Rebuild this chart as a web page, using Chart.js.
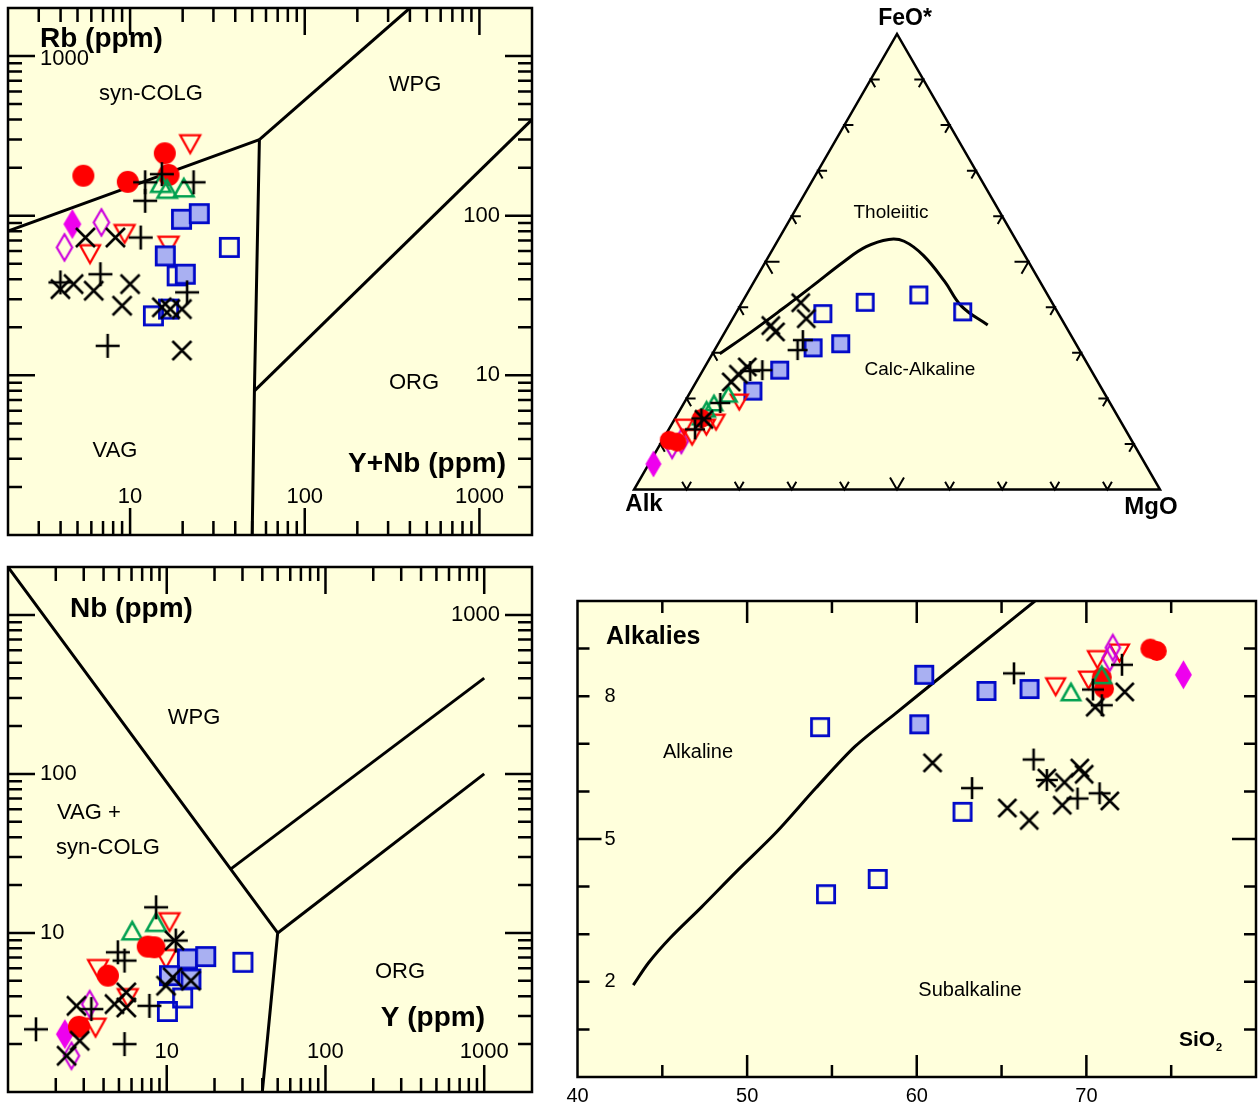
<!DOCTYPE html>
<html>
<head>
<meta charset="utf-8">
<script src="https://cdn.jsdelivr.net/npm/chart.js@4.4.1/dist/chart.umd.min.js"></script>
<style>
  html, body { margin: 0; padding: 0; background: #fff; }
  body { width: 1258px; height: 1111px; position: relative; overflow: hidden; }
  canvas { position: absolute; }
</style>
</head>
<body>
<canvas id="rbChart"></canvas>
<canvas id="afmChart"></canvas>
<canvas id="nbChart"></canvas>
<canvas id="tasChart"></canvas>
<script>
// ---------- Rb vs (Y+Nb) discrimination diagram ----------
const ynbRedCircle = [5.4, 9.7, 15.8, 16.6];
const rbRedCircle  = [178, 163, 246, 180];
const ynbRedTri    = [22.1, 9.3, 5.9, 16.6];
const rbRedTri     = [281, 77, 57.5, 65];
const ynbGreenTri  = [16.3, 20.3, 15.0];
const rbGreenTri   = [147, 150, 160];
const ynbMagFilled = [4.67];
const rbMagFilled  = [88.6];
const ynbMagOpen   = [6.85, 4.21];
const rbMagOpen    = [90.8, 63.3];
const ynbBlueFilled = [19.7, 24.9, 15.9, 20.7];
const rbBlueFilled  = [95, 103, 56, 43];
const ynbBlueOpen  = [37, 13.6, 16.6, 18.6];
const rbBlueOpen   = [63.3, 23.6, 26, 42];
const ynbCross = [5.55, 8.24, 3.99, 4.75, 6.19, 10.0, 9.0, 15.2, 17.0, 19.8, 19.8];
const rbCross  = [73, 73, 34.7, 37.3, 33.9, 37.3, 27.3, 26.7, 26, 26, 14.3];
const ynbPlus  = [15.2, 12.2, 23.1, 12.2, 11.5, 6.76, 3.99, 21.2, 7.44];
const rbPlus   = [182, 162, 162, 124, 73, 43, 38.2, 33.1, 15.3];
// field boundaries
const rbVagColX = [2, 55],          rbVagColY = [80, 300];
const rbWpgColX = [55, 400],        rbWpgColY = [300, 2000];
const rbVagWpgX = [55, 51.5, 50],   rbVagWpgY = [300, 8, 1];
const rbWpgOrgX = [51.5, 2000],     rbWpgOrgY = [8, 400];
const rbXTickLabels = [10, 100, 1000];
const rbYTickLabels = [1000, 100, 10];

// ---------- Nb vs Y discrimination diagram ----------
const yRedCircle  = [2.80, 4.26, 7.59, 8.36];
const nbRedCircle = [2.57, 5.39, 8.21, 8.13];
const yRedTri     = [10.4, 3.69, 5.68, 3.56, 9.9];
const nbRedTri    = [11.7, 5.94, 3.90, 2.54, 6.87];
const yGreenTri   = [6.06, 8.57];
const nbGreenTri  = [10.35, 11.7];
const yMagFilled  = [2.28];
const nbMagFilled = [2.31];
const yMagOpen    = [3.27, 2.51];
const nbMagOpen   = [3.57, 1.69];
const yBlueFilled  = [13.5, 17.6, 10.4, 14.2];
const nbBlueFilled = [6.87, 7.1, 5.39, 5.13];
const yBlueOpen   = [30.2, 10.1, 12.6];
const nbBlueOpen  = [6.54, 3.21, 3.90];
const yCross  = [11.2, 10.9, 14.2, 9.9, 2.70, 4.69, 5.56, 5.56, 2.83, 2.34];
const nbCross = [8.96, 5.26, 5.01, 4.66, 3.48, 3.57, 4.23, 3.40, 2.10, 1.69];
const yPlus   = [8.57, 4.92, 5.42, 3.35, 7.78, 1.50, 5.42, 11.4];
const nbPlus  = [14.5, 7.56, 6.70, 3.32, 3.48, 2.48, 2.0, 8.96];
const nbWpgVagX = [1, 50, 40],   nbWpgVagY = [2000, 10, 1];
const nbOrgX    = [50, 1000],    nbOrgY    = [10, 100];
const nbWpgX    = [25, 1000],    nbWpgY    = [25, 400];
const nbXTickLabels = [10, 100, 1000];
const nbYTickLabels = [1000, 100, 10];

// ---------- AFM ternary (Alk, FeO*, MgO in %) ----------
const afmA_BlueOpen = [44.8, 35.5, 24.5, 18];
const afmF_BlueOpen = [38.6, 41.1, 42.7, 39];
const afmM_BlueOpen = [16.6, 23.4, 32.8, 43];
const afmA_BlueFilled = [50.4, 44.7, 59.2, 66.6];
const afmF_BlueFilled = [31.1, 32, 26.2, 21.6];
const afmM_BlueFilled = [18.5, 23.3, 14.6, 11.8];
const afmA_Cross = [47.8, 48.5, 56, 55.8, 65, 67.5, 69.7, 79];
const afmF_Cross = [41, 37.5, 36, 34.6, 26.9, 25.3, 23.6, 15.4];
const afmM_Cross = [11.2, 14, 8, 9.6, 8.1, 7.2, 6.7, 5.6];
const afmA_Plus = [51.5, 53.6, 62.5, 64.9, 74.1, 79.4, 81.8];
const afmF_Plus = [32.8, 30.6, 26.2, 26, 19, 15.6, 13.2];
const afmM_Plus = [15.7, 15.8, 11.3, 9.1, 6.9, 5, 5];
const afmA_GreenTri = [71.6, 75.3, 77.4, 79.3];
const afmF_GreenTri = [20.9, 19, 17.6, 15.9];
const afmM_GreenTri = [7.5, 5.7, 5, 4.8];
const afmA_RedTri = [70.4, 77, 83.2, 83.6, 79.4];
const afmF_RedTri = [19.2, 14.8, 11.5, 13.7, 13.7];
const afmM_RedTri = [10.4, 8.2, 5.3, 2.7, 6.9];
const afmA_RedCircle = [79.4, 87.9, 86.6];
const afmF_RedCircle = [15.6, 10.8, 10.4];
const afmM_RedCircle = [5, 1.3, 3];
const afmA_MagOpen = [88, 85.7];
const afmF_MagOpen = [9.5, 10.6];
const afmM_MagOpen = [2.5, 3.7];
const afmA_MagFilled = [93.5];
const afmF_MagFilled = [5.6];
const afmM_MagFilled = [0.9];
// tholeiitic / calc-alkaline divide
const afmA_Divide = [68.8, 60.4, 52.2, 43.7, 35.3, 29.2, 24.1, 21.4, 19.3, 18, 17.6, 14.7];
const afmF_Divide = [29.8, 34.6, 39.5, 44.7, 49.9, 53.3, 54.9, 54.5, 51.4, 45.4, 40.2, 36.1];
const afmM_Divide = [1.4, 5, 8.3, 11.6, 14.8, 17.5, 21, 24.1, 29.3, 36, 42.2, 49.2];
const afmTickPercents = [10, 20, 30, 40, 50, 60, 70, 80, 90];

// ---------- Total alkalies vs SiO2 ----------
const sio2BlueOpen = [54.3, 62.7, 54.65, 57.7];
const alkBlueOpen  = [7.35, 5.57, 3.84, 4.16];
const sio2BlueFilled = [60.44, 64.11, 66.65, 60.15];
const alkBlueFilled  = [8.45, 8.11, 8.15, 7.41];
const sio2Cross = [60.93, 65.34, 66.63, 67.67, 68.71, 68.58, 69.61, 69.87, 71.38, 70.52, 72.26];
const alkCross  = [6.60, 5.65, 5.39, 6.28, 6.19, 5.71, 6.49, 6.36, 5.80, 7.77, 8.09];
const sio2Plus = [65.73, 66.89, 63.26, 67.67, 69.48, 70.78, 70.39, 72.10, 70.91];
const alkPlus  = [8.48, 6.67, 6.07, 6.24, 5.85, 5.96, 8.14, 8.66, 7.81];
const sio2RedTri = [68.19, 70.13, 70.65, 71.95];
const alkRedTri  = [8.20, 8.34, 8.77, 8.91];
const sio2GreenTri = [69.09, 70.91];
const alkGreenTri  = [8.09, 8.45];
const sio2RedCircle = [71.04, 70.91, 73.77, 74.15];
const alkRedCircle  = [8.16, 8.40, 9.00, 8.95];
const sio2MagOpen = [71.56, 71.38];
const alkMagOpen  = [9.02, 8.80];
const sio2MagFilled = [75.72];
const alkMagFilled  = [8.45];
const sio2Divide = [43.29, 44.19, 45.49, 47.31, 49.38, 51.72, 54.05, 56.38, 58.72, 61.57, 64.43, 66.97];
const alkDivide  = [1.93, 2.40, 2.93, 3.57, 4.32, 5.14, 6.07, 6.95, 7.63, 8.45, 9.27, 10.0];
const sio2TickLabels = [40, 50, 60, 70];
const alkTickLabels  = [8, 5, 2];

// ---------- styling ----------
const FONT = '"Liberation Sans", Arial, Helvetica, sans-serif';
const PANEL_BG = '#FFFFDC';
const RED = '#FF0000', BLUE = '#0008C8', BLUE_FILL = '#A9B0F2', GREEN = '#00A050';
const MAG_LINE = '#CC00DD', MAG_FILL = '#EE00EE';

function sprite(w, h, paint) {
  const pad = 3;
  const c = document.createElement('canvas');
  c.width = Math.ceil(w + pad * 2);
  c.height = Math.ceil(h + pad * 2);
  const g = c.getContext('2d');
  g.translate(c.width / 2, c.height / 2);
  paint(g, w / 2, h / 2);
  return c;
}
function circleM(d, color) {
  return sprite(d, d, (g, r) => { g.beginPath(); g.arc(0, 0, r, 0, Math.PI * 2); g.fillStyle = color; g.fill(); });
}
function squareM(s, stroke, fill, lw) {
  return sprite(s, s, (g, r) => {
    g.beginPath(); g.rect(-r + lw / 2, -r + lw / 2, 2 * r - lw, 2 * r - lw);
    if (fill) { g.fillStyle = fill; g.fill(); }
    g.lineWidth = lw; g.strokeStyle = stroke; g.stroke();
  });
}
function triM(w, h, stroke, lw, down) {
  return sprite(w, h, (g, rx, ry) => {
    const ix = rx - lw * 0.9, iy = ry - lw * 0.7;
    g.beginPath();
    if (down) { g.moveTo(-ix, -iy); g.lineTo(ix, -iy); g.lineTo(0, iy); }
    else { g.moveTo(0, -iy); g.lineTo(ix, iy); g.lineTo(-ix, iy); }
    g.closePath(); g.lineWidth = lw; g.strokeStyle = stroke; g.lineJoin = 'miter'; g.stroke();
  });
}
function diamondM(w, h, stroke, fill, lw) {
  return sprite(w, h, (g, rx, ry) => {
    const ix = rx - lw * 0.6, iy = ry - lw * 0.6;
    g.beginPath(); g.moveTo(0, -iy); g.lineTo(ix, 0); g.lineTo(0, iy); g.lineTo(-ix, 0); g.closePath();
    if (fill) { g.fillStyle = fill; g.fill(); }
    g.lineWidth = lw; g.strokeStyle = stroke; g.stroke();
  });
}
function plusM(s, lw) {
  return sprite(s, s, (g, r) => {
    g.beginPath(); g.moveTo(-r, 0); g.lineTo(r, 0); g.moveTo(0, -r); g.lineTo(0, r);
    g.lineWidth = lw; g.strokeStyle = '#000'; g.stroke();
  });
}
function crossM(s, lw) {
  return sprite(s, s, (g, r) => {
    g.beginPath(); g.moveTo(-r, -r); g.lineTo(r, r); g.moveTo(r, -r); g.lineTo(-r, r);
    g.lineWidth = lw; g.strokeStyle = '#000'; g.stroke();
  });
}
function markerSet(k) {
  return {
    circle: circleM(k.circle, RED),
    redTri: triM(k.triW, k.triH, RED, 2.2, true),
    greenTri: triM(k.triW, k.triH, GREEN, 2.6, false),
    magFilled: diamondM(k.diaW, k.diaH, MAG_FILL, MAG_FILL, 1.5),
    magOpen: diamondM(k.diaW, k.diaH, MAG_LINE, null, 2.2),
    blueFilled: squareM(k.square, BLUE, BLUE_FILL, 2.8),
    blueOpen: squareM(k.square, BLUE, null, 2.8),
    plus: plusM(k.plus, 2.6),
    cross: crossM(k.cross, 2.6)
  };
}

// ---------- helpers ----------
function place(id, left, top, w, h) {
  const c = document.getElementById(id);
  c.width = w; c.height = h;
  c.style.left = left + 'px'; c.style.top = top + 'px';
  c.style.width = w + 'px'; c.style.height = h + 'px';
  return c;
}
function pts(xs, ys) { return xs.map((x, i) => ({ x: x, y: ys[i] })); }
const SQ3 = Math.sqrt(3) / 2;
function ternPts(as, fs, ms) {
  return as.map((a, i) => {
    const f = fs[i], m = ms[i], s = a + f + m;
    return { x: (m + f / 2) / s, y: (f * SQ3) / s };
  });
}
function markerDs(label, data, img) {
  return { label, data, pointStyle: img, pointRadius: 10, showLine: false, order: 1, clip: false };
}
function lineDs(label, data, tension) {
  return { label, data, showLine: true, pointRadius: 0, borderColor: '#000', borderWidth: 3,
           tension: tension || 0, fill: false, order: 5 };
}
function logTickList(min, max, major, minor) {
  const out = [];
  for (let d = Math.floor(Math.log10(min)); d <= Math.ceil(Math.log10(max)); d++) {
    for (let m = 1; m <= 9; m++) {
      const v = m * Math.pow(10, d);
      if (v > min * 1.001 && v < max * 0.999) out.push({ v, L: m === 1 ? major : minor });
    }
  }
  return out;
}
function framePlugin(id, spec) {
  return {
    id,
    beforeDraw(chart) {
      const { ctx, chartArea: a } = chart;
      ctx.save(); ctx.fillStyle = PANEL_BG;
      ctx.fillRect(a.left, a.top, a.right - a.left, a.bottom - a.top);
      ctx.restore();
    },
    afterDraw(chart) {
      const { ctx, chartArea: a, scales: { x, y } } = chart;
      ctx.save();
      ctx.strokeStyle = '#000'; ctx.lineWidth = 2.5; ctx.lineCap = 'butt';
      ctx.beginPath();
      spec.xTicks.forEach(t => {
        const p = x.getPixelForValue(t.v);
        ctx.moveTo(p, a.top); ctx.lineTo(p, a.top + t.L);
        ctx.moveTo(p, a.bottom); ctx.lineTo(p, a.bottom - t.L);
      });
      spec.yTicks.forEach(t => {
        const p = y.getPixelForValue(t.v);
        ctx.moveTo(a.left, p); ctx.lineTo(a.left + t.L, p);
        ctx.moveTo(a.right, p); ctx.lineTo(a.right - t.L, p);
      });
      ctx.stroke();
      ctx.strokeRect(a.left, a.top, a.right - a.left, a.bottom - a.top);
      ctx.fillStyle = '#000'; ctx.textBaseline = 'middle'; ctx.font = spec.labelFont;
      spec.xLabels.forEach(l => {
        ctx.textAlign = 'center';
        ctx.fillText(String(l.v), x.getPixelForValue(l.v), a.bottom + spec.xLabelDy);
      });
      spec.yLabels.forEach(l => {
        const p = y.getPixelForValue(l.v) + (l.dy || 0);
        if (l.side === 'left') { ctx.textAlign = 'left'; ctx.fillText(String(l.v), a.left + spec.yInset, p); }
        else { ctx.textAlign = 'right'; ctx.fillText(String(l.v), a.right - spec.yInset, p); }
      });
      ctx.restore();
    }
  };
}
function textPlugin(id, origin, items) {
  return {
    id,
    afterDraw(chart) {
      const ctx = chart.ctx;
      ctx.save(); ctx.fillStyle = '#000'; ctx.textBaseline = 'middle';
      items.forEach(it => {
        ctx.font = it.font; ctx.textAlign = it.align || 'center';
        ctx.fillText(it.t, it.x - origin[0], it.y - origin[1]);
      });
      ctx.restore();
    }
  };
}
function baseOptions(padding, xScale, yScale) {
  return {
    responsive: false, animation: false, devicePixelRatio: 1, events: [],
    layout: { padding, autoPadding: false },
    plugins: { legend: { display: false }, tooltip: { enabled: false }, title: { display: false } },
    scales: { x: Object.assign({ display: false }, xScale), y: Object.assign({ display: false }, yScale) }
  };
}
const B28 = 'bold 28px ' + FONT, R22 = '22px ' + FONT;

// ---------- panel: Rb vs Y+Nb ----------
(function () {
  const o = [0, 0];
  const cv = place('rbChart', o[0], o[1], 545, 548);
  const mk = markerSet({ circle: 22, triW: 24, triH: 21, diaW: 18, diaH: 29, square: 21, plus: 24, cross: 19 });
  new Chart(cv, {
    type: 'scatter',
    data: { datasets: [
      markerDs('x', pts(ynbCross, rbCross), mk.cross),
      markerDs('+', pts(ynbPlus, rbPlus), mk.plus),
      markerDs('green', pts(ynbGreenTri, rbGreenTri), mk.greenTri),
      markerDs('blue filled', pts(ynbBlueFilled, rbBlueFilled), mk.blueFilled),
      markerDs('blue open', pts(ynbBlueOpen, rbBlueOpen), mk.blueOpen),
      markerDs('magenta filled', pts(ynbMagFilled, rbMagFilled), mk.magFilled),
      markerDs('magenta open', pts(ynbMagOpen, rbMagOpen), mk.magOpen),
      markerDs('red tri', pts(ynbRedTri, rbRedTri), mk.redTri),
      markerDs('red circle', pts(ynbRedCircle, rbRedCircle), mk.circle),
      lineDs('VAG/syn-COLG', pts(rbVagColX, rbVagColY)),
      lineDs('WPG/syn-COLG', pts(rbWpgColX, rbWpgColY)),
      lineDs('VAG/WPG', pts(rbVagWpgX, rbVagWpgY)),
      lineDs('WPG/ORG', pts(rbWpgOrgX, rbWpgOrgY))
    ] },
    options: baseOptions({ left: 8, top: 8, right: 13, bottom: 13 },
      { type: 'logarithmic', min: 2, max: 2000 },
      { type: 'logarithmic', min: 1, max: 2000 }),
    plugins: [
      framePlugin('rbFrame', {
        xTicks: logTickList(2, 2000, 27, 14), yTicks: logTickList(1, 2000, 27, 14),
        labelFont: R22, xLabelDy: -38, yInset: 32,
        xLabels: rbXTickLabels.map(v => ({ v })),
        yLabels: rbYTickLabels.map(v => ({ v, side: v === 1000 ? 'left' : 'right', dy: v === 1000 ? 3 : 0 }))
      }),
      textPlugin('rbText', o, [
        { t: 'Rb (ppm)', x: 40, y: 39, font: B28, align: 'left' },
        { t: 'syn-COLG', x: 151, y: 94, font: R22 },
        { t: 'WPG', x: 415, y: 85, font: R22 },
        { t: 'ORG', x: 414, y: 383, font: R22 },
        { t: 'VAG', x: 115, y: 451, font: R22 },
        { t: 'Y+Nb (ppm)', x: 506, y: 464, font: B28, align: 'right' }
      ])
    ]
  });
})();

// ---------- panel: Nb vs Y ----------
(function () {
  const o = [0, 552];
  const cv = place('nbChart', o[0], o[1], 545, 559);
  const mk = markerSet({ circle: 22, triW: 24, triH: 21, diaW: 18, diaH: 29, square: 21, plus: 24, cross: 19 });
  new Chart(cv, {
    type: 'scatter',
    data: { datasets: [
      markerDs('x', pts(yCross, nbCross), mk.cross),
      markerDs('+', pts(yPlus, nbPlus), mk.plus),
      markerDs('red circle', pts(yRedCircle, nbRedCircle), mk.circle),
      markerDs('green', pts(yGreenTri, nbGreenTri), mk.greenTri),
      markerDs('blue filled', pts(yBlueFilled, nbBlueFilled), mk.blueFilled),
      markerDs('blue open', pts(yBlueOpen, nbBlueOpen), mk.blueOpen),
      markerDs('magenta filled', pts(yMagFilled, nbMagFilled), mk.magFilled),
      markerDs('magenta open', pts(yMagOpen, nbMagOpen), mk.magOpen),
      markerDs('red tri', pts(yRedTri, nbRedTri), mk.redTri),
      lineDs('WPG/VAG', pts(nbWpgVagX, nbWpgVagY)),
      lineDs('ORG', pts(nbOrgX, nbOrgY)),
      lineDs('WPG', pts(nbWpgX, nbWpgY))
    ] },
    options: baseOptions({ left: 8, top: 15, right: 13, bottom: 19 },
      { type: 'logarithmic', min: 1, max: 2000 },
      { type: 'logarithmic', min: 1, max: 2000 }),
    plugins: [
      framePlugin('nbFrame', {
        xTicks: logTickList(1, 2000, 27, 14), yTicks: logTickList(1, 2000, 27, 14),
        labelFont: R22, xLabelDy: -40, yInset: 32,
        xLabels: nbXTickLabels.map(v => ({ v })),
        yLabels: nbYTickLabels.map(v => ({ v, side: v === 1000 ? 'right' : 'left' }))
      }),
      textPlugin('nbText', o, [
        { t: 'Nb (ppm)', x: 70, y: 609, font: B28, align: 'left' },
        { t: 'WPG', x: 194, y: 718, font: R22 },
        { t: 'VAG +', x: 57, y: 813, font: R22, align: 'left' },
        { t: 'syn-COLG', x: 56, y: 848, font: R22, align: 'left' },
        { t: 'ORG', x: 400, y: 972, font: R22 },
        { t: 'Y (ppm)', x: 485, y: 1018, font: B28, align: 'right' }
      ])
    ]
  });
})();

// ---------- panel: AFM ternary ----------
(function () {
  const o = [600, 0];
  const W = 620, H = 540;
  const pad = { left: 34, right: 60, top: 10, bottom: 50.5 };
  const side = W - pad.left - pad.right;
  const yMax = (H - pad.top - pad.bottom) / side;
  const cv = place('afmChart', o[0], o[1], W, H);
  const mk = markerSet({ circle: 19, triW: 21, triH: 18, diaW: 16, diaH: 26, square: 19, plus: 20, cross: 18 });
  const afmFrame = {
    id: 'afmFrame',
    beforeDatasetsDraw(chart) {
      const { ctx, scales: { x, y } } = chart;
      const P = (tx, ty) => [x.getPixelForValue(tx), y.getPixelForValue(ty)];
      const A = P(0, 0), M = P(1, 0), F = P(0.5, SQ3);
      ctx.save();
      ctx.beginPath(); ctx.moveTo(A[0], A[1]); ctx.lineTo(F[0], F[1]); ctx.lineTo(M[0], M[1]); ctx.closePath();
      ctx.fillStyle = PANEL_BG; ctx.fill();
      ctx.lineWidth = 2.5; ctx.strokeStyle = '#000'; ctx.lineJoin = 'miter'; ctx.stroke();
      ctx.lineWidth = 2;
      ctx.beginPath();
      afmTickPercents.forEach(p => {
        const f = p / 100, L = p === 50 ? 14 : 9;
        const arm = (pt, d1, d2) => {
          ctx.moveTo(pt[0] + d1[0] * L, pt[1] + d1[1] * L); ctx.lineTo(pt[0], pt[1]);
          ctx.lineTo(pt[0] + d2[0] * L, pt[1] + d2[1] * L);
        };
        arm([A[0] + (M[0] - A[0]) * f, A[1]], [-0.5, -0.866], [0.5, -0.866]);
        arm([A[0] + (F[0] - A[0]) * f, A[1] + (F[1] - A[1]) * f], [1, 0], [0.5, 0.866]);
        arm([M[0] + (F[0] - M[0]) * f, M[1] + (F[1] - M[1]) * f], [-1, 0], [-0.5, 0.866]);
      });
      ctx.stroke();
      ctx.restore();
    }
  };
  new Chart(cv, {
    type: 'scatter',
    data: { datasets: [
      markerDs('x', ternPts(afmA_Cross, afmF_Cross, afmM_Cross), mk.cross),
      markerDs('+', ternPts(afmA_Plus, afmF_Plus, afmM_Plus), mk.plus),
      markerDs('red circle', ternPts(afmA_RedCircle, afmF_RedCircle, afmM_RedCircle), mk.circle),
      markerDs('green', ternPts(afmA_GreenTri, afmF_GreenTri, afmM_GreenTri), mk.greenTri),
      markerDs('red tri', ternPts(afmA_RedTri, afmF_RedTri, afmM_RedTri), mk.redTri),
      markerDs('blue filled', ternPts(afmA_BlueFilled, afmF_BlueFilled, afmM_BlueFilled), mk.blueFilled),
      markerDs('blue open', ternPts(afmA_BlueOpen, afmF_BlueOpen, afmM_BlueOpen), mk.blueOpen),
      markerDs('magenta open', ternPts(afmA_MagOpen, afmF_MagOpen, afmM_MagOpen), mk.magOpen),
      markerDs('magenta filled', ternPts(afmA_MagFilled, afmF_MagFilled, afmM_MagFilled), mk.magFilled),
      lineDs('Tholeiitic / Calc-Alkaline', ternPts(afmA_Divide, afmF_Divide, afmM_Divide), 0.4)
    ] },
    options: baseOptions(pad, { type: 'linear', min: 0, max: 1 }, { type: 'linear', min: 0, max: yMax }),
    plugins: [
      afmFrame,
      textPlugin('afmText', o, [
        { t: 'FeO*', x: 905, y: 19, font: 'bold 23px ' + FONT },
        { t: 'Alk', x: 644, y: 504, font: 'bold 24px ' + FONT },
        { t: 'MgO', x: 1151, y: 507, font: 'bold 24px ' + FONT },
        { t: 'Tholeiitic', x: 891, y: 213, font: '19px ' + FONT },
        { t: 'Calc-Alkaline', x: 920, y: 370, font: '19px ' + FONT }
      ])
    ]
  });
})();

// ---------- panel: Alkalies vs SiO2 ----------
(function () {
  const o = [560, 590];
  const cv = place('tasChart', o[0], o[1], 698, 521);
  const mk = markerSet({ circle: 20, triW: 23, triH: 20, diaW: 17, diaH: 28, square: 20, plus: 22, cross: 18 });
  const xTicks = [], yTicks = [];
  for (let v = 45; v < 80; v += 5) xTicks.push({ v, L: v % 10 === 0 ? 22 : 12 });
  for (let v = 1; v < 10; v += 1) yTicks.push({ v, L: v === 5 ? 24 : 12 });
  new Chart(cv, {
    type: 'scatter',
    data: { datasets: [
      markerDs('x', pts(sio2Cross, alkCross), mk.cross),
      markerDs('+', pts(sio2Plus, alkPlus), mk.plus),
      markerDs('magenta open', pts(sio2MagOpen, alkMagOpen), mk.magOpen),
      markerDs('green', pts(sio2GreenTri, alkGreenTri), mk.greenTri),
      markerDs('red circle', pts(sio2RedCircle, alkRedCircle), mk.circle),
      markerDs('red tri', pts(sio2RedTri, alkRedTri), mk.redTri),
      markerDs('blue filled', pts(sio2BlueFilled, alkBlueFilled), mk.blueFilled),
      markerDs('blue open', pts(sio2BlueOpen, alkBlueOpen), mk.blueOpen),
      markerDs('magenta filled', pts(sio2MagFilled, alkMagFilled), mk.magFilled),
      lineDs('Alkaline / Subalkaline', pts(sio2Divide, alkDivide), 0.3)
    ] },
    options: baseOptions({ left: 17.5, top: 11, right: 2, bottom: 34 },
      { type: 'linear', min: 40, max: 80 },
      { type: 'linear', min: 0, max: 10 }),
    plugins: [
      framePlugin('tasFrame', {
        xTicks, yTicks, labelFont: '20px ' + FONT, xLabelDy: 19, yInset: 27,
        xLabels: sio2TickLabels.map(v => ({ v })),
        yLabels: alkTickLabels.map(v => ({ v, side: 'left' }))
      }),
      textPlugin('tasText', o, [
        { t: 'Alkalies', x: 606, y: 637, font: 'bold 25px ' + FONT, align: 'left' },
        { t: 'Alkaline', x: 698, y: 752, font: '20px ' + FONT },
        { t: 'Subalkaline', x: 970, y: 990, font: '20px ' + FONT },
        { t: 'SiO', x: 1179, y: 1040, font: 'bold 21px ' + FONT, align: 'left' },
        { t: '2', x: 1216, y: 1048, font: 'bold 11px ' + FONT, align: 'left' }
      ])
    ]
  });
})();
</script>
</body>
</html>
